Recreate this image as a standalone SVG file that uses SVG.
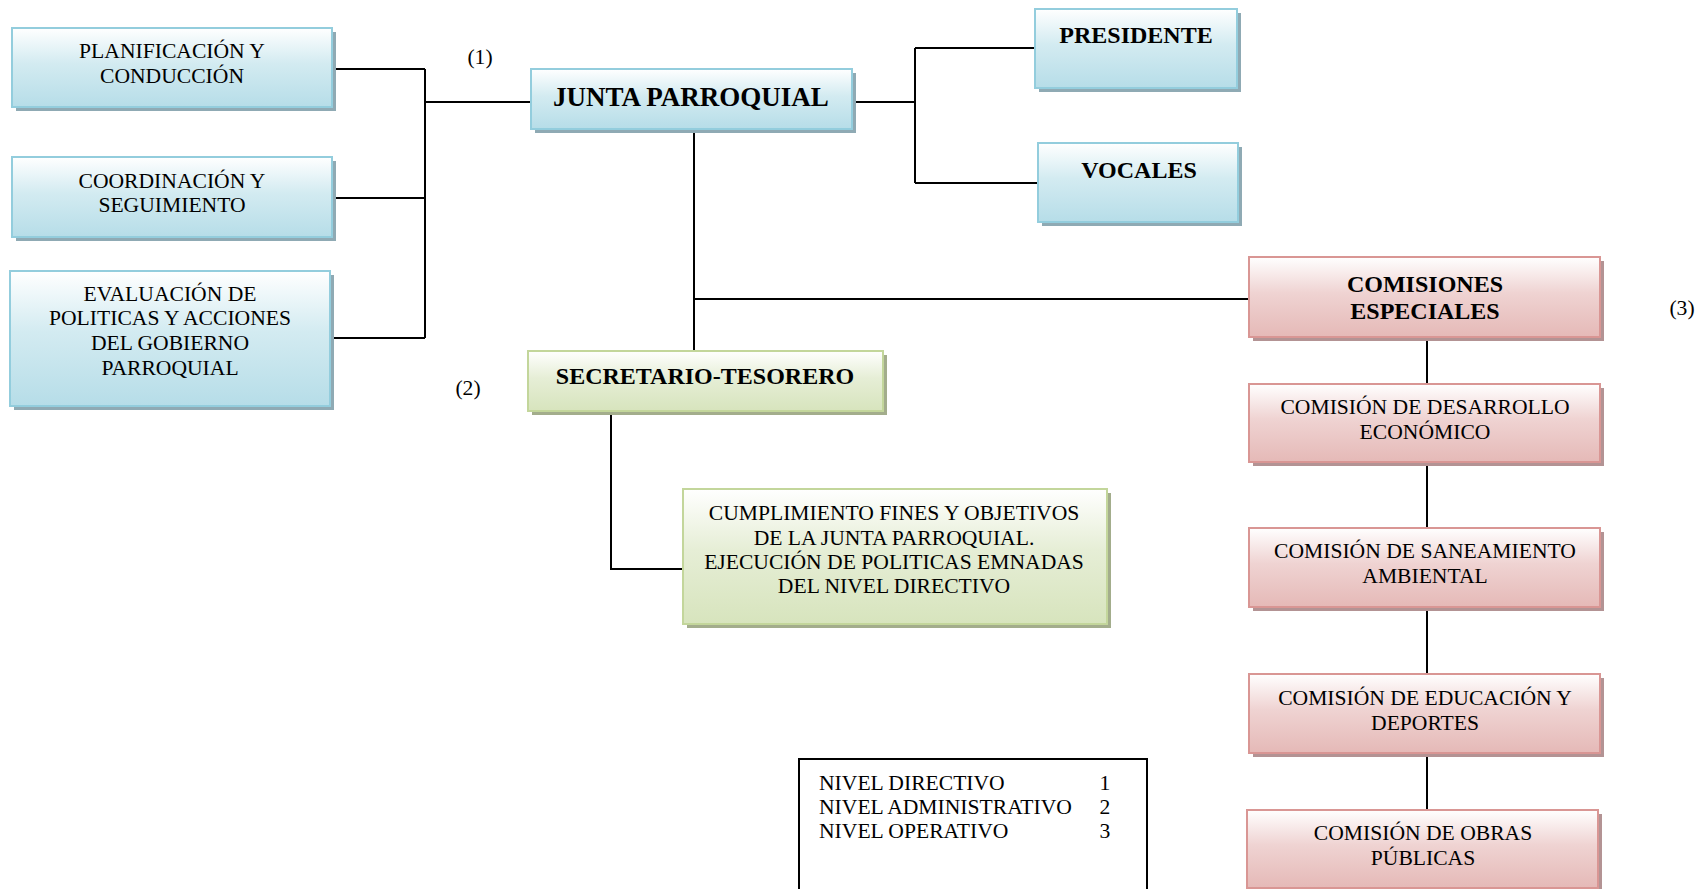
<svg xmlns="http://www.w3.org/2000/svg" width="1699" height="889" viewBox="0 0 1699 889">
<defs>
<linearGradient id="gb" x1="0" y1="0" x2="0" y2="1"><stop offset="0" stop-color="#ffffff"/><stop offset="0.45" stop-color="#d3ebf1"/><stop offset="1" stop-color="#b6dde8"/></linearGradient>
<linearGradient id="gg" x1="0" y1="0" x2="0" y2="1"><stop offset="0" stop-color="#ffffff"/><stop offset="0.45" stop-color="#e6eed6"/><stop offset="1" stop-color="#d7e4bd"/></linearGradient>
<linearGradient id="gr" x1="0" y1="0" x2="0" y2="1"><stop offset="0" stop-color="#ffffff"/><stop offset="0.45" stop-color="#efd3d2"/><stop offset="1" stop-color="#e5b9b7"/></linearGradient>
</defs>
<style>
.sb{fill:#8faab4}.sg{fill:#a3ad8c}.sr{fill:#b39394}
.bb{fill:url(#gb);stroke:#93cddd;stroke-width:2}
.bg{fill:url(#gg);stroke:#c3d69b;stroke-width:2}
.br{fill:url(#gr);stroke:#d99694;stroke-width:2}
text{font-family:"Liberation Serif","Times New Roman",serif;fill:#000;text-anchor:middle}
.t{font-size:21.6px}
.h{font-size:24px;font-weight:bold}
.lg{text-anchor:start}
.c{fill:none;stroke:#000;stroke-width:2}
</style>
<g id="connectors">
<path class="c" d="M332,69 H425 M332,198 H425 M330,338 H425 M425,69 V338 M425,102 H531"/>
<path class="c" d="M852,102 H915 M915,48 V183 M915,48 H1035 M915,183 H1038"/>
<path class="c" d="M694,129 V351 M694,299 H1249"/>
<path class="c" d="M611,411 V569 H683"/>
<path class="c" d="M1427,337 V384 M1427,462 V528 M1427,607 V674 M1427,753 V810"/>
</g>
<g id="planificacion">
<rect class="sb" x="16" y="32" width="320" height="79"/>
<rect class="bb" x="12" y="28" width="320" height="79"/>
<text class="t" x="172" y="58">PLANIFICACIÓN Y</text>
<text class="t" x="172" y="83">CONDUCCIÓN</text>
</g>
<g id="coordinacion">
<rect class="sb" x="16" y="161" width="320" height="80"/>
<rect class="bb" x="12" y="157" width="320" height="80"/>
<text class="t" x="172" y="188">COORDINACIÓN Y</text>
<text class="t" x="172" y="212">SEGUIMIENTO</text>
</g>
<g id="evaluacion">
<rect class="sb" x="14" y="275" width="320" height="135"/>
<rect class="bb" x="10" y="271" width="320" height="135"/>
<text class="t" x="170" y="301">EVALUACIÓN DE</text>
<text class="t" x="170" y="325">POLITICAS Y ACCIONES</text>
<text class="t" x="170" y="350">DEL GOBIERNO</text>
<text class="t" x="170" y="375">PARROQUIAL</text>
</g>
<g id="junta">
<rect class="sb" x="535" y="73" width="321" height="60"/>
<rect class="bb" x="531" y="69" width="321" height="60"/>
<text x="691" y="106" style="font-size:27px;font-weight:bold">JUNTA PARROQUIAL</text>
</g>
<g id="presidente">
<rect class="sb" x="1039" y="13" width="202" height="79"/>
<rect class="bb" x="1035" y="9" width="202" height="79"/>
<text class="h" x="1136" y="43">PRESIDENTE</text>
</g>
<g id="vocales">
<rect class="sb" x="1042" y="147" width="200" height="79"/>
<rect class="bb" x="1038" y="143" width="200" height="79"/>
<text class="h" x="1139" y="178">VOCALES</text>
</g>
<g id="secretario">
<rect class="sg" x="532" y="355" width="355" height="60"/>
<rect class="bg" x="528" y="351" width="355" height="60"/>
<text class="h" x="705" y="384">SECRETARIO-TESORERO</text>
</g>
<g id="cumplimiento">
<rect class="sg" x="687" y="493" width="424" height="135"/>
<rect class="bg" x="683" y="489" width="424" height="135"/>
<text class="t" x="894" y="520">CUMPLIMIENTO FINES Y OBJETIVOS</text>
<text class="t" x="894" y="545">DE LA JUNTA PARROQUIAL.</text>
<text class="t" x="894" y="569">EJECUCIÓN DE POLITICAS EMNADAS</text>
<text class="t" x="894" y="593">DEL NIVEL DIRECTIVO</text>
</g>
<g id="comisiones">
<rect class="sr" x="1253" y="261" width="351" height="80"/>
<rect class="br" x="1249" y="257" width="351" height="80"/>
<text class="h" x="1425" y="292">COMISIONES</text>
<text class="h" x="1425" y="319">ESPECIALES</text>
</g>
<g id="desarrollo">
<rect class="sr" x="1253" y="388" width="351" height="78"/>
<rect class="br" x="1249" y="384" width="351" height="78"/>
<text class="t" x="1425" y="414">COMISIÓN DE DESARROLLO</text>
<text class="t" x="1425" y="439">ECONÓMICO</text>
</g>
<g id="saneamiento">
<rect class="sr" x="1253" y="532" width="351" height="79"/>
<rect class="br" x="1249" y="528" width="351" height="79"/>
<text class="t" x="1425" y="558">COMISIÓN DE SANEAMIENTO</text>
<text class="t" x="1425" y="583">AMBIENTAL</text>
</g>
<g id="educacion">
<rect class="sr" x="1253" y="678" width="351" height="79"/>
<rect class="br" x="1249" y="674" width="351" height="79"/>
<text class="t" x="1425" y="705">COMISIÓN DE EDUCACIÓN Y</text>
<text class="t" x="1425" y="730">DEPORTES</text>
</g>
<g id="obras">
<rect class="sr" x="1251" y="814" width="351" height="78"/>
<rect class="br" x="1247" y="810" width="351" height="78"/>
<text class="t" x="1423" y="840">COMISIÓN DE OBRAS</text>
<text class="t" x="1423" y="865">PÚBLICAS</text>
</g>
<g id="labels">
<text class="t" x="480" y="64">(1)</text>
<text class="t" x="468" y="395">(2)</text>
<text class="t" x="1682" y="315">(3)</text>
</g>
<g id="legend">
<path class="c" d="M799,890 V759 H1147 V890"/>
<text class="t lg" x="819" y="790">NIVEL DIRECTIVO</text>
<text class="t lg" x="819" y="814">NIVEL ADMINISTRATIVO</text>
<text class="t lg" x="819" y="838">NIVEL OPERATIVO</text>
<text class="t" x="1105" y="790">1</text>
<text class="t" x="1105" y="814">2</text>
<text class="t" x="1105" y="838">3</text>
</g>
</svg>
